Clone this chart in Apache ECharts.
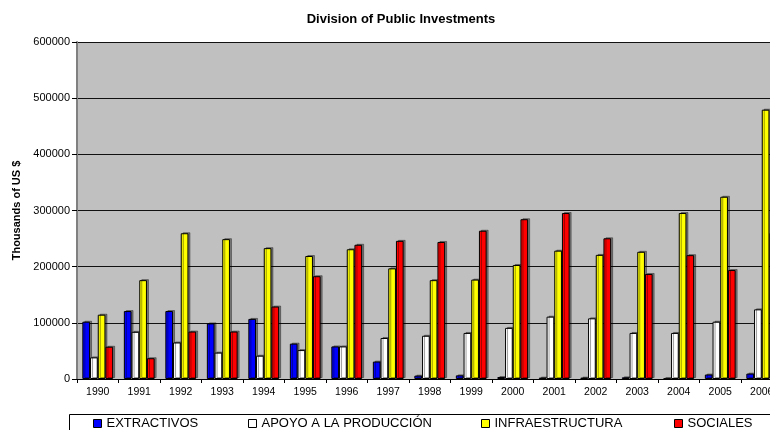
<!DOCTYPE html>
<html>
<head>
<meta charset="utf-8">
<script src="https://cdn.jsdelivr.net/npm/echarts@6/dist/echarts.min.js"></script>
<style>
html,body{margin:0;padding:0;background:#fff;}
#c{width:770px;height:430px;}
</style>
</head>
<body>
<div id="c"></div>
<script>
var years = ['1990','1991','1992','1993','1994','1995','1996','1997','1998','1999','2000','2001','2002','2003','2004','2005','2006'];
var extractivos = [102000,121000,121000,99000,107000,63000,58000,31000,6000,6500,3500,2500,2500,3000,1000,8000,9600];
var apoyo = [38500,84000,65000,47000,41500,51500,58000,73000,77000,82000,91000,111000,108000,82000,82000,102000,124000];
var infraestructura = [114500,176000,259500,249000,233000,219000,231000,197000,176000,177000,203000,228500,221000,226500,295500,324500,479500];
var sociales = [57500,37000,84500,84500,129000,183000,239000,246000,244000,264000,284500,295500,250500,187000,220500,194000,260000];
var seriesNames = ['EXTRACTIVOS','APOYO A LA PRODUCCIÓN','INFRAESTRUCTURA','SOCIALES'];
var seriesColors = ['#0000ff','#ffffff','#ffff00','#ff0000'];
var seriesData = [extractivos, apoyo, infraestructura, sociales];
var legendLeft = [93, 248, 481, 674];

var FONT = '"Liberation Sans", Arial, sans-serif';
var chart = echarts.init(document.getElementById('c'), null, {renderer:'canvas'});

var series = seriesData.map(function(d, i){
  return {
    name: seriesNames[i],
    type: 'bar',
    data: d,
    barWidth: 7.7,
    barGap: '0%',
    animation: false,
    itemStyle: {
      color: seriesColors[i],
      borderColor: '#000',
      borderWidth: 1,
      shadowColor: 'rgba(0,0,0,0.38)',
      shadowOffsetX: 2,
      shadowOffsetY: -1,
      shadowBlur: 0
    },
    emphasis: {disabled: true}
  };
});

var legends = seriesNames.map(function(n, i){
  return {
    data: [n],
    left: legendLeft[i],
    top: 417,
    padding: 0,
    itemWidth: 8,
    itemHeight: 8,
    icon: 'rect',
    itemStyle: {borderColor:'#000', borderWidth:1, shadowBlur:0, shadowOffsetX:0, shadowOffsetY:0, shadowColor:'transparent'},
    textStyle: {fontFamily: FONT, fontSize: 13, color:'#000'},
    selectedMode: false
  };
});

chart.setOption({
  animation: false,
  backgroundColor: '#ffffff',
  title: {
    text: 'Division of Public Investments',
    left: 396,
    top: 8,
    textAlign: 'center',
    textStyle: {fontFamily: FONT, fontSize: 13, fontWeight: 'bold', color: '#000'}
  },
  graphic: [{
    type: 'rect',
    z: 0,
    left: 69,
    top: 414,
    shape: {width: 720, height: 40},
    style: {fill: '#fff', stroke: '#000', lineWidth: 1}
  }],
  legend: legends,
  grid: {
    left: 77,
    top: 42,
    width: 705.5,
    height: 337,
    show: true,
    backgroundColor: '#c0c0c0',
    borderWidth: 0,
    containLabel: false,
    outerBoundsMode: 'none'
  },
  xAxis: {
    type: 'category',
    data: years,
    boundaryGap: true,
    axisLine: {lineStyle: {color: '#000', width: 1}},
    axisTick: {show: true, length: 4, lineStyle: {color: '#000'}},
    axisLabel: {fontFamily: FONT, fontSize: 10.5, color: '#000', margin: 8, interval: 0}
  },
  yAxis: {
    type: 'value',
    min: 0,
    max: 600000,
    interval: 100000,
    name: 'Thousands of US $',
    nameLocation: 'middle',
    nameRotate: 90,
    nameGap: 54,
    nameTextStyle: {fontFamily: FONT, fontSize: 11, fontWeight: 'bold', color: '#000'},
    axisLine: {show: true, lineStyle: {color: '#808080', width: 2}},
    axisTick: {show: true, length: 5, lineStyle: {color: '#000'}},
    axisLabel: {fontFamily: FONT, fontSize: 11, color: '#000', margin: 7,
      formatter: function(v){ return String(v); }},
    splitLine: {show: true, lineStyle: {color: '#111', width: 1}}
  },
  series: series
});
</script>
</body>
</html>
